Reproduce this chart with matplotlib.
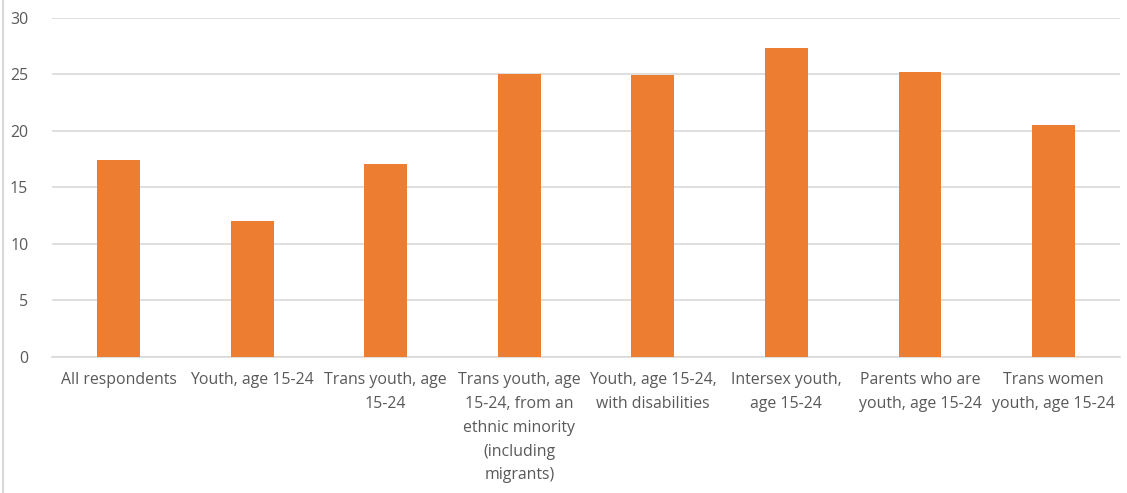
import matplotlib
matplotlib.use("Agg")
import matplotlib.pyplot as plt
from matplotlib.lines import Line2D

categories = [
    "All respondents",
    "Youth, age 15-24",
    "Trans youth, age\n15-24",
    "Trans youth, age\n15-24, from an\nethnic minority\n(including\nmigrants)",
    "Youth, age 15-24,\nwith disabilities",
    "Intersex youth,\nage 15-24",
    "Parents who are\nyouth, age 15-24",
    "Trans women\nyouth, age 15-24",
]
values = [17.4, 12.0, 17.1, 25.0, 24.9, 27.3, 25.2, 20.5]
yticks = [0, 5, 10, 15, 20, 25, 30]

bar_color = "#ED7D31"
text_color = "#595959"
grid_color = "#D9D9D9"

plt.rcParams["font.family"] = ["Open Sans", "DejaVu Sans"]

fig = plt.figure(figsize=(11.27, 4.93), dpi=100)
ax = fig.add_axes([0.046, 0.276, 0.948, 0.688])

x = range(len(categories))
ax.bar(x, values, width=0.32, color=bar_color, zorder=3)

ax.set_xlim(-0.5, len(categories) - 0.5)
ax.set_ylim(0, 30)
ax.set_yticks(yticks)
ax.set_xticks(list(x))
ax.set_xticklabels(categories, fontsize=11.4, color=text_color, linespacing=1.65)
ax.tick_params(axis="y", labelsize=11.4, labelcolor=text_color, length=0, pad=17)
ax.tick_params(axis="x", length=0, pad=11)

ax.grid(axis="y", color=grid_color, linewidth=1.2, zorder=0)
for side in ["top", "right", "left"]:
    ax.spines[side].set_visible(False)
ax.spines["bottom"].set_color(grid_color)
ax.spines["bottom"].set_linewidth(1.2)

# left edge border of the original frame
fig.add_artist(Line2D([0.003, 0.003], [0, 1], transform=fig.transFigure,
                      color="#D0D0D0", linewidth=1.2))

fig.savefig("out.png", dpi=100)
